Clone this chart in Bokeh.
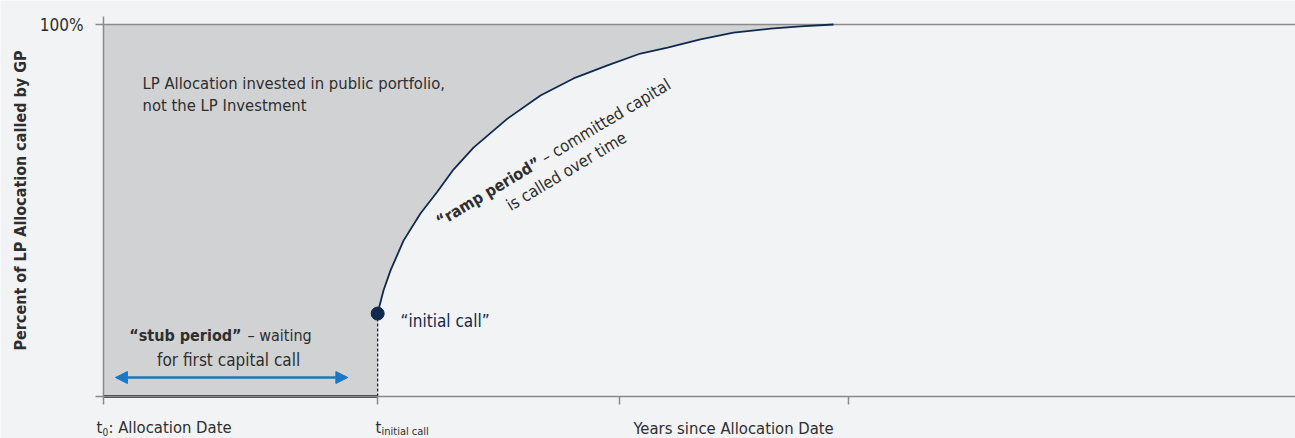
import math
from bokeh.plotting import figure
from bokeh.models import (Label, Arrow, NormalHead, Range1d, FixedTicker,
                          CustomJSTickFormatter)
from bokeh.embed import file_html
from bokeh.resources import INLINE

# ---------------- data ----------------
x_ticks = [0.0, 2.30, 4.33, 6.25]          # years since allocation date (arbitrary scale)
y_ticks = [0.0, 1.0]
t_initial = 2.30
initial_call = 0.223
stub_x = [0.0, 2.30]
stub_y = [0.0, 0.0]
ramp_x = [2.299, 2.349, 2.408, 2.517, 2.659, 2.802, 2.936, 3.104, 3.389, 3.666,
          3.943, 4.228, 4.505, 4.732, 5.008, 5.285, 5.596, 5.847, 6.124]
ramp_y = [0.223, 0.285, 0.339, 0.419, 0.492, 0.551, 0.610, 0.669, 0.747, 0.809,
          0.855, 0.890, 0.922, 0.938, 0.960, 0.978, 0.989, 0.995, 1.0]
arrow_x = [0.10, 2.05]
arrow_y = 0.051
x_max = 10.0
y_top = 1.0215

BG = "#f2f3f5"
SHADE = "#d1d2d4"
NAVY = "#0f2a4e"
AXIS = "#8a8a8a"
TXT = "#2e2e2e"
BLUE = "#1a78c2"
FONT = "'DejaVu Sans Condensed', Roboto"
FS = "16.5px"

p = figure(width=1295, height=438,
           x_range=Range1d(-103 / 119.2, x_max), y_range=Range1d(-42 / 372, 396 / 372),
           output_backend="svg", toolbar_location=None,
           min_border_left=0, min_border_right=0, min_border_top=0, min_border_bottom=0,
           background_fill_color=BG, border_fill_color=BG, outline_line_color=None)
p.grid.visible = False

# axes, drawn inside the canvas at the data origin
p.xaxis.fixed_location = 0
p.xaxis.bounds = (0, x_max)
p.xaxis.ticker = FixedTicker(ticks=x_ticks)
p.xaxis.formatter = CustomJSTickFormatter(code="return ''")
p.xaxis.axis_line_color = AXIS
p.xaxis.axis_line_width = 1.5
p.xaxis.major_tick_line_color = AXIS
p.xaxis.major_tick_line_width = 1.5
p.xaxis.major_tick_out = 8
p.xaxis.major_tick_in = 0
p.xaxis.minor_tick_line_color = None

p.yaxis.fixed_location = 0
p.yaxis.bounds = (0, y_top)
p.yaxis.ticker = FixedTicker(ticks=y_ticks)
p.yaxis.formatter = CustomJSTickFormatter(code="return tick >= 1 ? '100%' : ''")
p.yaxis.axis_line_color = AXIS
p.yaxis.axis_line_width = 1.5
p.yaxis.major_tick_line_color = AXIS
p.yaxis.major_tick_line_width = 1.5
p.yaxis.major_tick_out = 8
p.yaxis.major_tick_in = 0
p.yaxis.minor_tick_line_color = None
p.yaxis.major_label_text_font = FONT
p.yaxis.major_label_text_font_size = "17px"
p.yaxis.major_label_text_color = TXT
p.yaxis.major_label_standoff = 12

# shaded region (uncalled allocation)
shade_x = stub_x + ramp_x + [stub_x[0]]
shade_y = stub_y + ramp_y + [1.0]
p.patch(shade_x, shade_y, fill_color=SHADE, line_color=None, level="underlay")

# 100% line
p.line([x_ticks[0], x_max], [1.0, 1.0], line_color=AXIS, line_width=1.5)

# stub period (0% called) and ramp
p.line(stub_x, stub_y, line_color="#111111", line_width=2.5)
p.line([t_initial, t_initial], [0, initial_call], line_color=NAVY, line_width=1.3, line_dash="3 2")
p.line(ramp_x, ramp_y, line_color=NAVY, line_width=1.8)
p.scatter([t_initial], [initial_call], size=13, fill_color=NAVY, line_color=NAVY)

# double arrow
p.add_layout(Arrow(x_start=arrow_x[0], y_start=arrow_y, x_end=arrow_x[1], y_end=arrow_y,
                   line_color=BLUE, line_width=2.5,
                   start=NormalHead(size=12, fill_color=BLUE, line_color=BLUE),
                   end=NormalHead(size=12, fill_color=BLUE, line_color=BLUE)))

def lab(x, y, text, size=FS, color=TXT, style="normal", align="left",
        baseline="alphabetic", angle=0.0, xo=0, yo=0):
    p.add_layout(Label(x=x, y=y, text=text, text_font=FONT, text_font_size=size,
                       text_color=color, text_font_style=style, text_align=align,
                       text_baseline=baseline, angle=angle, x_offset=xo, y_offset=yo))

# top-left annotation
lab(0.327, 0.841, "LP Allocation invested in public portfolio,")
lab(0.327, 0.782, "not the LP Investment")

# stub period text
lab(1.158, 0.164, "\u201cstub period\u201d", size="16px", style="bold", align="right")
lab(1.208, 0.164, "\u2013 waiting", size="16px")
lab(1.05, 0.097, "for first capital call", size="17px", align="center")

# initial call
lab(2.492, 0.204, "\u201cinitial call\u201d", size="17px", color=NAVY)

# ramp text (rotated)
ang = math.radians(31)
lab(2.802, 0.468, "\u201cramp period\u201d", size="16px", style="bold", angle=ang)
lab(2.802, 0.468, "\u2013 committed capital", angle=ang,
    xo=123 * math.cos(ang), yo=123 * math.sin(ang))
lab(3.884, 0.605, "is called over time", align="center", angle=ang)

# y axis title
lab(-0.696, 0.527, "Percent of LP Allocation called by GP", size="16px", style="bold",
    align="center", baseline="middle", angle=math.pi / 2)

# x tick labels
lab(-0.059, -0.0833, "t")
lab(-0.008, -0.0941, "0", size="10px")
lab(0.042, -0.0833, ": Allocation Date")
lab(2.282, -0.0833, "t")
lab(2.332, -0.0941, "initial call", size="11px")
lab(4.446, -0.086, "Years since Allocation Date")

open("out.html", "w").write(file_html(p, INLINE))
